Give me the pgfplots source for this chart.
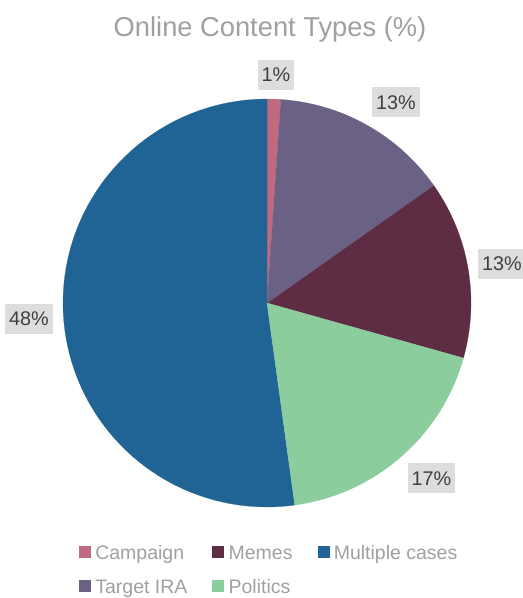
\documentclass[border=0pt]{standalone}
\usepackage{pgfplots}
\pgfplotsset{compat=1.18}
\usepackage{fontspec}
\setmainfont{Liberation Sans}
\definecolor{ccamp}{RGB}{192,106,128}
\definecolor{ctarget}{RGB}{107,97,132}
\definecolor{cmemes}{RGB}{94,44,67}
\definecolor{cpol}{RGB}{140,205,157}
\definecolor{cmult}{RGB}{31,100,148}
\definecolor{txtgray}{RGB}{160,160,160}
\definecolor{boxgray}{RGB}{222,221,220}
\definecolor{lbltxt}{RGB}{64,64,64}
\tikzset{lbl/.style={fill=boxgray, text=lbltxt, font=\fontsize{19.8bp}{23bp}\selectfont,
    inner xsep=4bp, inner ysep=0pt, minimum height=30bp, anchor=center}}
\def\pietotal{92}% 1+13+13+17+48
% #1 = cumulative value before the slice (clockwise from the top), #2 = value, #3 = colour
\newcommand{\piewedge}[3]{%
  \pgfmathsetmacro{\aS}{90-(#1)/\pietotal*360}%
  \pgfmathsetmacro{\aE}{90-(#1+#2)/\pietotal*360}%
  \edef\doit{\noexpand\addplot[fill=#3, draw=#3, line width=0.2pt, domain=\aE:\aS, samples=90] ({cos(x)},{sin(x)}) -- (axis cs:0,0) -- cycle;}%
  \doit
}
\begin{document}
\begin{tikzpicture}
\useasboundingbox (0,0) rectangle (523bp,598bp);
\node[anchor=base, font=\fontsize{27.3bp}{32bp}\selectfont, text=txtgray, inner sep=0pt] at (270bp,561bp) {Online Content Types (\%)};
\begin{axis}[
  at={(267bp,295bp)}, anchor=center,
  width=408bp, height=408bp, scale only axis,
  hide axis, xmin=-1, xmax=1, ymin=-1, ymax=1, clip=false,
  legend columns=3,
  legend cell align=left,
  legend image code/.code={\fill[#1] (0bp,-5.5bp) rectangle (11bp,5.5bp);},
  legend style={at={(axis description cs:0.039,-0.084)}, anchor=north west,
    draw=none, fill=none, inner sep=0pt,
    font=\fontsize{19.5bp}{23bp}\selectfont, text=txtgray,
    column sep=5bp, row sep=13bp,
    nodes={inner sep=0pt, text height=18bp, text depth=3bp},
    /tikz/every even column/.append style={column sep=25bp}},
]
% legend order: Campaign, Memes, Multiple cases, Target IRA, Politics
\piewedge{0}{1}{ccamp}
\addlegendentry{Campaign}
\piewedge{14}{13}{cmemes}
\addlegendentry{Memes}
\piewedge{44}{48}{cmult}
\addlegendentry{Multiple cases}
\piewedge{1}{13}{ctarget}
\addlegendentry{Target IRA}
\piewedge{27}{17}{cpol}
\addlegendentry{Politics}
\node[lbl] at (axis cs:0.044,1.118) {1\%};
\node[lbl] at (axis cs:0.632,0.983) {13\%};
\node[lbl] at (axis cs:1.152,0.191) {13\%};
\node[lbl] at (axis cs:0.806,-0.860) {17\%};
\node[lbl] at (axis cs:-1.167,-0.076) {48\%};
\end{axis}
\end{tikzpicture}
\end{document}
